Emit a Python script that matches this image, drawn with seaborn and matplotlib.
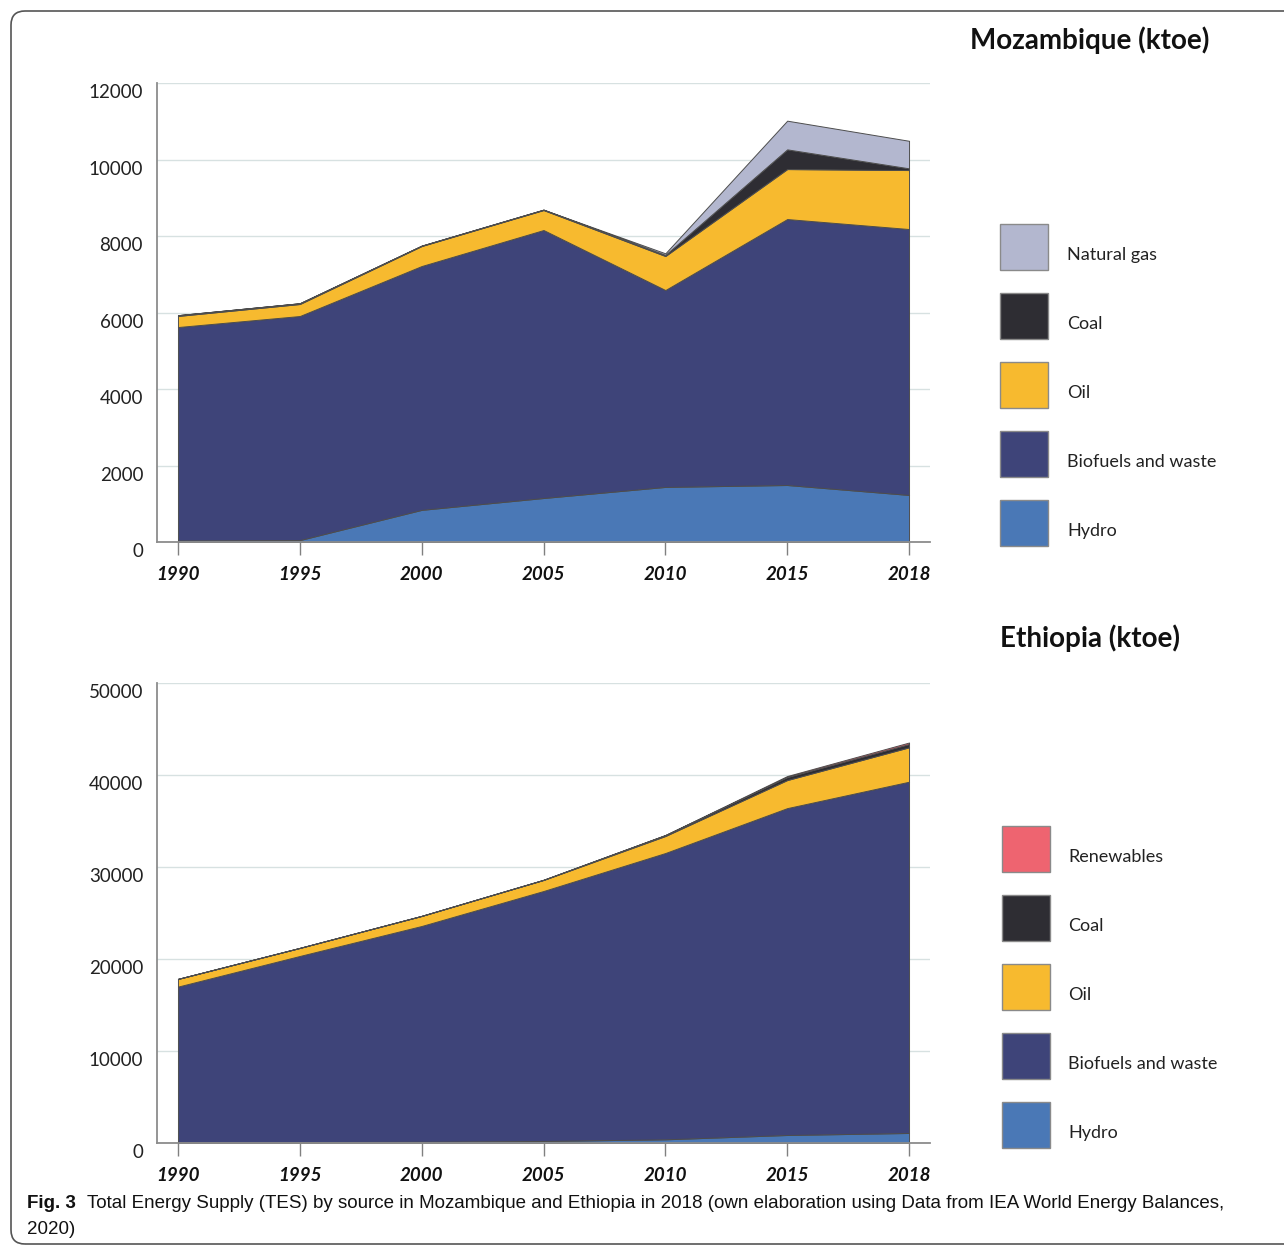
import numpy as np
import matplotlib.pyplot as plt
import matplotlib.transforms as mtransforms
import seaborn as sns
from matplotlib.patches import FancyBboxPatch, Rectangle

sns.set_theme(style='white')
plt.rcParams['font.family'] = ['Lato', 'DejaVu Sans']

# x categories (equally spaced in the original)
years = ['1990', '1995', '2000', '2005', '2010', '2015', '2018']

# Mozambique (ktoe), stacked bottom -> top
moz_labels = ['Hydro', 'Biofuels and waste', 'Oil', 'Coal', 'Natural gas']
moz_hydro = [40, 50, 840, 1150, 1440, 1490, 1230]
moz_biofuels = [5580, 5858, 6375, 7006, 5147, 6953, 6952]
moz_oil = [290, 314, 523, 523, 890, 1307, 1542]
moz_coal = [20, 20, 10, 10, 30, 515, 45]
moz_gas = [0, 0, 0, 0, 40, 750, 720]

# Ethiopia (ktoe), stacked bottom -> top
eth_labels = ['Hydro', 'Biofuels and waste', 'Oil', 'Coal', 'Renewables']
eth_hydro = [80, 100, 140, 220, 400, 870, 1090]
eth_biofuels = [16920, 20230, 23450, 27170, 31120, 35530, 38180]
eth_oil = [830, 870, 1090, 1200, 1850, 3050, 3740]
eth_coal = [10, 10, 10, 20, 100, 330, 360]
eth_renew = [0, 0, 0, 0, 10, 110, 160]

col = {'Hydro': '#4a78b6', 'Biofuels and waste': '#3e4479', 'Oil': '#f7ba2f',
       'Coal': '#2e2d33', 'Natural gas': '#b3b7cf', 'Renewables': '#ee6470'}

W, H = 1284, 1248
fig = plt.figure(figsize=(W / 100, H / 100), dpi=100)

# rounded frame around the figure
fig.add_artist(FancyBboxPatch((11, 4), 1300, 1233, boxstyle='round,pad=0,rounding_size=14',
                              transform=None, fill=False, edgecolor='#555555', lw=1.2))


def px_ax(left, top, right, bottom):
    return fig.add_axes([left / W, 1 - bottom / H, (right - left) / W, (bottom - top) / H])


def draw_panel(ax, series, labels, ymax, ystep):
    x = np.arange(len(years))
    ax.stackplot(x, *series, colors=[col[l] for l in labels],
                 edgecolor='#4d4d4d', linewidth=0.7, zorder=2)
    ax.set_xlim(-0.172, 6.172)
    ax.set_ylim(0, ymax)
    ax.set_yticks(np.arange(0, ymax + 1, ystep))
    ax.yaxis.grid(True, color='#d7e1e1', lw=1)
    ax.xaxis.grid(False)
    ax.set_axisbelow(True)
    ax.set_xticks(x)
    ax.set_xticklabels(years, fontweight='bold', fontstyle='italic', fontsize=13.5, color='#111111')
    ax.tick_params(axis='x', bottom=True, length=9, width=1, color='#808080', pad=8)
    ax.tick_params(axis='y', length=0, pad=10, labelsize=13.5, labelcolor='#222222')
    # y labels sit a little below their gridlines in the original
    shift = mtransforms.ScaledTranslation(0, -6 / 72, fig.dpi_scale_trans)
    for lab in ax.get_yticklabels():
        lab.set_transform(lab.get_transform() + shift)
    sns.despine(ax=ax)
    for s in ['left', 'bottom']:
        ax.spines[s].set_color('#8c8c8c')
        ax.spines[s].set_linewidth(1.3)


def draw_legend(labels, x0, tops, xt):
    for lab, top in zip(labels, tops):
        fig.add_artist(Rectangle((x0 / W, 1 - (top + 46) / H), 48 / W, 46 / H,
                                 transform=fig.transFigure, facecolor=col[lab],
                                 edgecolor='#8a8a8a', lw=1))
        fig.text(xt / W, 1 - (top + 31) / H, lab, fontsize=13, color='#222222', va='center')


ax1 = px_ax(157, 83, 930, 542)
draw_panel(ax1, [moz_hydro, moz_biofuels, moz_oil, moz_coal, moz_gas], moz_labels, 12000, 2000)

ax2 = px_ax(157, 683, 930, 1143)
draw_panel(ax2, [eth_hydro, eth_biofuels, eth_oil, eth_coal, eth_renew], eth_labels, 50000, 10000)

fig.text(1090 / W, 1 - 40 / H, 'Mozambique (ktoe)', fontsize=20, fontweight='bold',
         ha='center', va='center', color='#111111')
fig.text(1090 / W, 1 - 638 / H, 'Ethiopia (ktoe)', fontsize=20, fontweight='bold',
         ha='center', va='center', color='#111111')

draw_legend(moz_labels[::-1], 1000, [224, 293, 362, 431, 500], 1067)
draw_legend(eth_labels[::-1], 1002, [826, 895, 964, 1033, 1102], 1068)

cap_font = ['Liberation Sans', 'DejaVu Sans']
fig.text(27 / W, 1 - 1203 / H, 'Fig. 3', fontsize=13.5, fontweight='bold', family=cap_font,
         va='center', color='#111111')
fig.text(87 / W, 1 - 1203 / H,
         'Total Energy Supply (TES) by source in Mozambique and Ethiopia in 2018 (own elaboration '
         'using Data from IEA World Energy Balances,',
         fontsize=13.5, family=cap_font, va='center', color='#111111')
fig.text(27 / W, 1 - 1230 / H, '2020)', fontsize=13.5, family=cap_font, va='center', color='#111111')

fig.savefig('out.png', dpi=100)
